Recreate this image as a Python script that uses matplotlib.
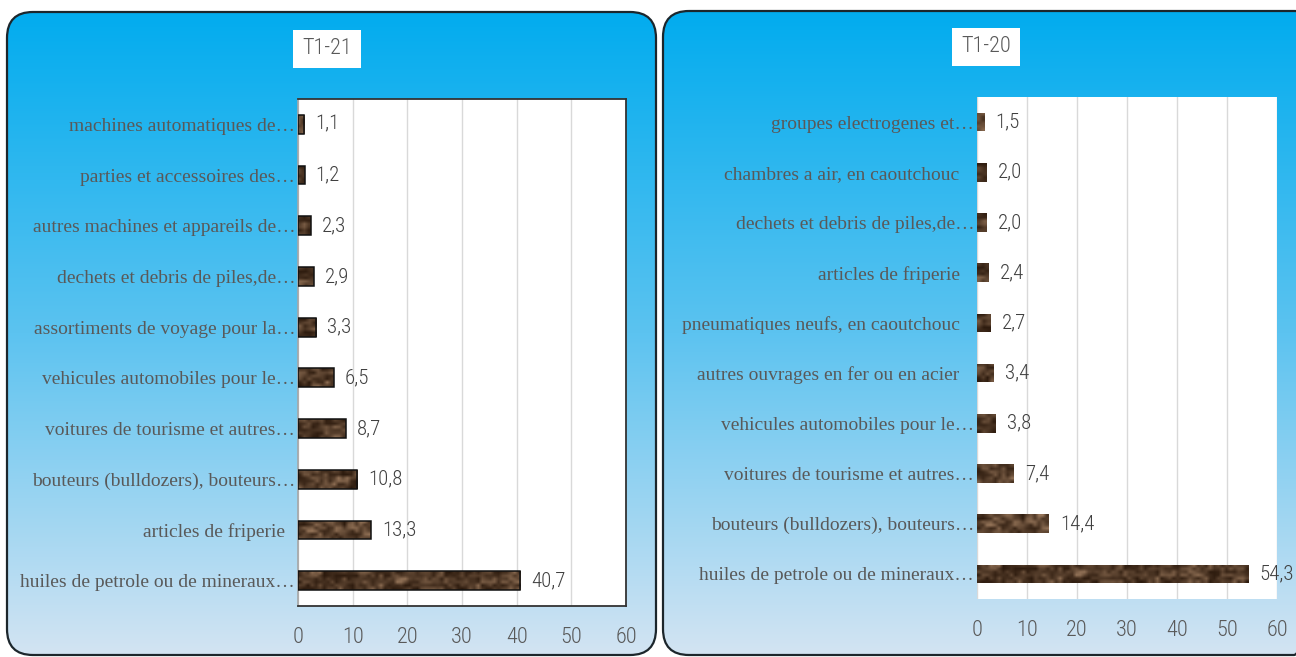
import numpy as np
import matplotlib
matplotlib.use("Agg")
import matplotlib.pyplot as plt
from matplotlib.patches import FancyBboxPatch
from matplotlib.colors import LinearSegmentedColormap

# ---------------- data ----------------
titles = ["T1-21", "T1-20"]

cats_21 = [
    "machines automatiques de…",
    "parties et accessoires des…",
    "autres machines et appareils de…",
    "dechets et debris de piles,de…",
    "assortiments de voyage pour la…",
    "vehicules automobiles pour le…",
    "voitures de tourisme et autres…",
    "bouteurs (bulldozers), bouteurs…",
    "articles de friperie  ",
    "huiles de petrole ou de mineraux…",
]
vals_21 = [1.1, 1.2, 2.3, 2.9, 3.3, 6.5, 8.7, 10.8, 13.3, 40.7]

cats_20 = [
    "groupes electrogenes et…",
    "chambres a air, en caoutchouc   ",
    "dechets et debris de piles,de…",
    "articles de friperie   ",
    "pneumatiques neufs, en caoutchouc   ",
    "autres ouvrages en fer ou en acier   ",
    "vehicules automobiles pour le…",
    "voitures de tourisme et autres…",
    "bouteurs (bulldozers), bouteurs…",
    "huiles de petrole ou de mineraux…",
]
vals_20 = [1.5, 2.0, 2.0, 2.4, 2.7, 3.4, 3.8, 7.4, 14.4, 54.3]

xticks = [0, 10, 20, 30, 40, 50, 60]

# ---------------- style ----------------
W, H = 1296, 657
SERIF = ["Liberation Serif", "DejaVu Serif"]
NARROW = ["Roboto Condensed", "Liberation Sans Narrow", "Roboto", "DejaVu Sans"]
LABEL_C = "#595959"
VALUE_C = "#404040"

fig = plt.figure(figsize=(W / 100, H / 100), dpi=100)
fig.patch.set_facecolor("white")

bg = fig.add_axes([0, 0, 1, 1], zorder=0)
bg.axis("off")

grad = np.linspace(0, 1, 256).reshape(-1, 1)
gcmap = LinearSegmentedColormap.from_list("g", ["#02ACEE", "#5CC3F0", "#D3E4F3"])


def panel(x0, y0, x1, y1):
    p = FancyBboxPatch((x0, y0), x1 - x0, y1 - y0,
                       boxstyle="round,pad=0,rounding_size=26",
                       fc="none", ec="#1c262c", lw=1.6, zorder=3)
    bg.add_patch(p)
    im = bg.imshow(grad, extent=(x0, x1, y1, y0), cmap=gcmap, aspect="auto",
                   zorder=1, interpolation="bilinear")
    im.set_clip_path(p)


panel(7, 12, 656, 655)
panel(663, 11, 1320, 655)
bg.set_xlim(0, W)
bg.set_ylim(H, 0)

for xc, yc, t in ((327, 49, titles[0]), (986, 47, titles[1])):
    bg.text(xc, yc, t, ha="center", va="center", fontsize=16,
            color=LABEL_C, family=NARROW, fontweight="light",
            bbox=dict(boxstyle="square,pad=0.4", fc="white", ec="none"))


def hnoise(h, w, seed):
    yy, xx = np.mgrid[0:h, 0:w].astype(float)
    v = np.sin(xx * 12.9898 + yy * 78.233 + seed * 37.719) * 43758.5453
    return v - np.floor(v)


def texture(h, w, seed):
    coarse = np.repeat(np.repeat(hnoise((h + 1) // 2, (w + 2) // 3, seed + 5.0),
                                 2, axis=0), 3, axis=1)[:h, :w]
    n = 0.55 * hnoise(h, w, seed) + 0.45 * coarse
    dark = np.array([0.17, 0.10, 0.05])
    light = np.array([0.60, 0.47, 0.36])
    return dark + (light - dark) * (n[..., None] ** 1.7)


def chart(rect_px, cats, vals, framed):
    l, t, r, b = rect_px
    ax = fig.add_axes([l / W, 1 - b / H, (r - l) / W, (b - t) / H], zorder=2)
    ax.set_facecolor("white")
    y = np.arange(len(cats))
    bars = ax.barh(y, vals, height=0.37, color="none",
                   edgecolor="#111111" if framed else "none",
                   linewidth=1.1, zorder=4)
    px_per_unit = (r - l) / (xticks[-1] - xticks[0])
    for i, p in enumerate(bars.patches):
        x0, w = p.get_x(), p.get_width()
        y0, h = p.get_y(), p.get_height()
        img = texture(6, max(2, int(w * px_per_unit / 4)), i * 1.7 + 0.3)
        im = ax.imshow(img, extent=(x0, x0 + w, y0 + h, y0), aspect="auto",
                       interpolation="bilinear", zorder=3)
        im.set_clip_path(p)
    ax.set_xlim(xticks[0], xticks[-1])
    ax.set_ylim(len(cats) - 0.5, -0.5)
    ax.set_aspect("auto")
    ax.set_xticks(xticks)
    ax.set_yticks(y)
    ax.set_yticklabels(cats, family=SERIF, fontsize=14, color=LABEL_C)
    for lab in ax.get_xticklabels():
        lab.set_family(NARROW)
        lab.set_fontweight("light")
    ax.tick_params(axis="x", length=0, pad=15, labelsize=16, labelcolor=LABEL_C)
    ax.tick_params(axis="y", length=0, pad=2)
    ax.xaxis.grid(True, color="#d9d9d9", linewidth=1)
    ax.set_axisbelow(True)
    if framed:
        for s in ("top", "right", "bottom"):
            ax.spines[s].set_color("#333333")
            ax.spines[s].set_linewidth(1.3)
        ax.spines["left"].set_color("#a6a6a6")
        ax.spines["left"].set_linewidth(1.2)
    else:
        for s in ax.spines.values():
            s.set_visible(False)
    ax.bar_label(bars, labels=[f"{v:.1f}".replace(".", ",") for v in vals],
                 padding=8, fontsize=15, color=VALUE_C, family=NARROW,
                 fontweight="light")
    return ax


chart((298, 99, 626, 606), cats_21, vals_21, True)
chart((977, 97, 1277, 599), cats_20, vals_20, False)

fig.savefig("out.png", dpi=100)
